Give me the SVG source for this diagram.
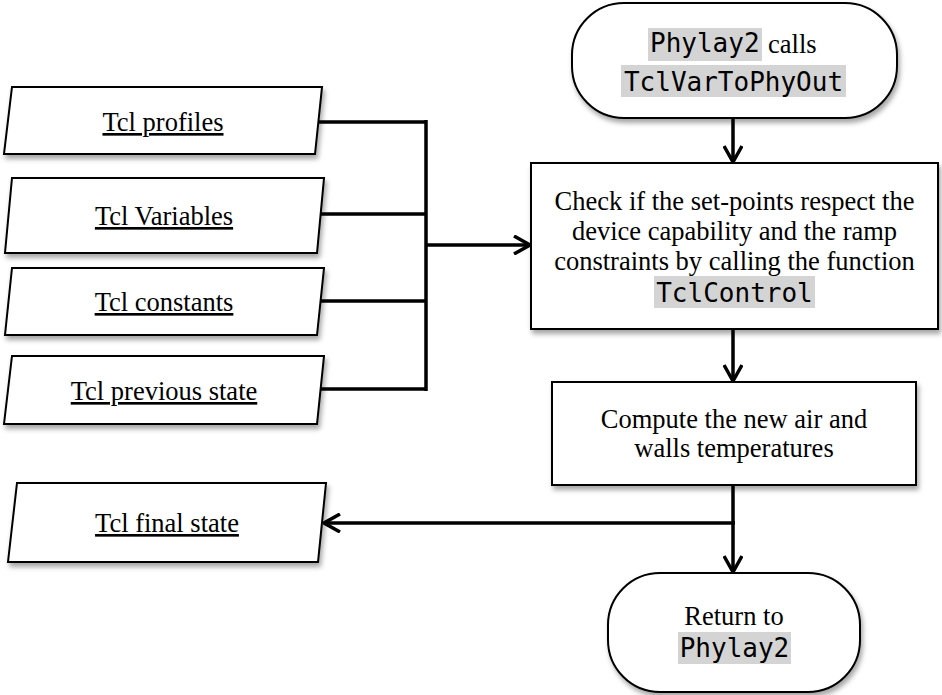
<svg xmlns="http://www.w3.org/2000/svg" width="942" height="695" viewBox="0 0 942 695">
<defs>
<filter id="sh" x="-10%" y="-10%" width="125%" height="130%">
<feDropShadow dx="2" dy="4" stdDeviation="2.5" flood-color="#000" flood-opacity="0.35"/>
</filter>
<marker id="arr" viewBox="0 0 20 20" refX="19" refY="10" markerWidth="20" markerHeight="20" markerUnits="userSpaceOnUse" orient="auto">
<path d="M3,1 L19,10 L3,19" fill="none" stroke="#000" stroke-width="3.5" stroke-linejoin="miter"/>
</marker>
</defs>
<style>
.box{fill:#fff;stroke:#000;stroke-width:2;filter:url(#sh)}
.t{font-family:"Liberation Serif","Times New Roman",serif;font-size:26.5px;fill:#000}
.m{font-family:"DejaVu Sans Mono",monospace;font-size:26px;fill:#000}
.u{text-decoration:underline}
.hl{fill:#d4d4d4}
.c{fill:none;stroke:#000;stroke-width:3.5}
</style>
<rect width="942" height="695" fill="#fff"/>

<g id="connectors">
<path class="c" d="M733,118 V162" marker-end="url(#arr)"/>
<path class="c" d="M317,122 H426 M319,214 H426 M319,301 H426 M319,389 H426 M426,120 V391"/>
<path class="c" d="M426,245 H530" marker-end="url(#arr)"/>
<path class="c" d="M733,329 V381" marker-end="url(#arr)"/>
<path class="c" d="M733,485 V572" marker-end="url(#arr)"/>
<path class="c" d="M735,523 H324" marker-end="url(#arr)"/>
</g>

<g id="tcl-profiles">
<polygon class="box" points="12,87 322,87 315,154 4,154"/>
<text class="t u" x="163" y="131" text-anchor="middle">Tcl profiles</text>
</g>
<g id="tcl-variables">
<polygon class="box" points="12,178 324,178 317,253 5,253"/>
<text class="t u" x="164" y="225" text-anchor="middle">Tcl Variables</text>
</g>
<g id="tcl-constants">
<polygon class="box" points="12,268 324,268 317,335 5,335"/>
<text class="t u" x="164" y="311" text-anchor="middle">Tcl constants</text>
</g>
<g id="tcl-previous-state">
<polygon class="box" points="12,356 324,356 317,424 4,424"/>
<text class="t u" x="164" y="400" text-anchor="middle">Tcl previous state</text>
</g>
<g id="tcl-final-state">
<polygon class="box" points="17,483 326,483 318,562 8,562"/>
<text class="t u" x="167" y="532" text-anchor="middle">Tcl final state</text>
</g>

<g id="start">
<rect class="box" x="572" y="3" width="325" height="115" rx="52" ry="52"/>
<rect class="hl" x="648" y="28" width="114" height="33"/>
<text class="m" x="650" y="52">Phylay2</text>
<text class="t" x="768" y="53">calls</text>
<rect class="hl" x="621" y="65" width="225" height="32"/>
<text class="m" x="733.5" y="91" text-anchor="middle">TclVarToPhyOut</text>
</g>

<g id="check">
<rect class="box" x="531" y="163" width="407" height="166"/>
<text class="t" x="734.5" y="210" text-anchor="middle">Check if the set-points respect the</text>
<text class="t" x="734.5" y="240" text-anchor="middle">device capability and the ramp</text>
<text class="t" x="734.5" y="270" text-anchor="middle">constraints by calling the function</text>
<rect class="hl" x="654" y="276" width="161" height="32"/>
<text class="m" x="734.5" y="302" text-anchor="middle">TclControl</text>
</g>

<g id="compute">
<rect class="box" x="552" y="382" width="364" height="103"/>
<text class="t" x="734" y="428" text-anchor="middle">Compute the new air and</text>
<text class="t" x="734" y="457" text-anchor="middle">walls temperatures</text>
</g>

<g id="return">
<rect class="box" x="608" y="573" width="252" height="119" rx="52" ry="52"/>
<text class="t" x="734" y="625" text-anchor="middle">Return to</text>
<rect class="hl" x="678" y="632" width="113" height="32"/>
<text class="m" x="734.5" y="657" text-anchor="middle">Phylay2</text>
</g>
</svg>
